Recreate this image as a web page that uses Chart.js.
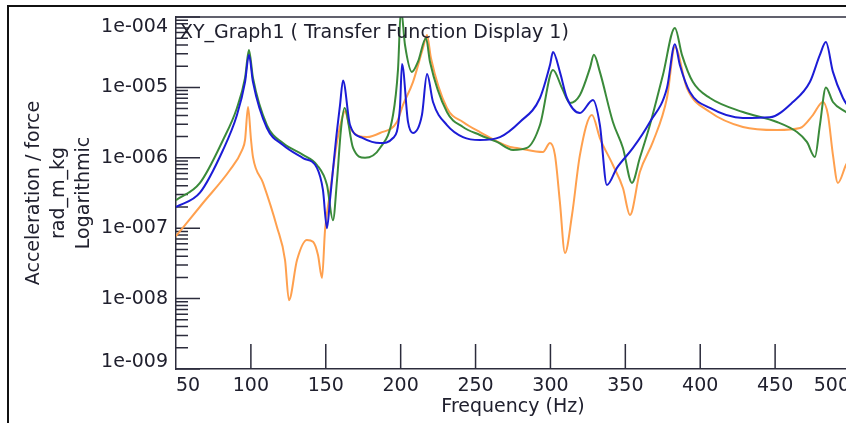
<!DOCTYPE html>
<html>
<head>
<meta charset="utf-8">
<script src="https://cdn.jsdelivr.net/npm/chart.js@4.4.1/dist/chart.umd.min.js"></script>
<style>
  html, body { margin: 0; padding: 0; background: #fff; width: 846px; height: 423px; overflow: hidden; }
  canvas { display: block; }
</style>
</head>
<body>
<canvas id="c" width="856" height="423" style="width:856px;height:423px"></canvas>
<script>
// Frequency response magnitudes (acceleration / force), three measurement points
const freqBlue = [50, 66, 81.4, 90.7, 96.1, 98.7, 101.4, 110.7, 121.4, 134.8,
  144.1, 148.1, 150.8, 152.8, 156.8, 159.5, 161.5, 166.2, 174.8, 186.2,
  194.9, 199.5, 200.9, 204.9, 208.2, 214.2, 217.6, 221.6, 230.9, 241.6,
  252.9, 266.3, 279.6, 293.0, 299.7, 301.7, 306.3, 311.0, 319.7, 328.4,
  333.0, 337.7, 344.4, 355.1, 366.4, 377.8, 383.1, 386.4, 393.1, 406.5,
  428.5, 446.5, 461.9, 473.2, 479.9, 483.9, 488.6, 495.3, 500];
const magBlue = [2.0e-7, 3.2e-7, 1.29e-6, 4.05e-6, 1.19e-5, 2.9e-5, 1.19e-5, 2.65e-6, 1.52e-6, 9.9e-7,
  7.2e-7, 3.5e-7, 1.0e-7, 2.5e-7, 1.79e-6, 5.6e-6, 1.25e-5, 2.92e-6, 1.91e-6, 1.62e-6,
  1.91e-6, 5.1e-6, 2.15e-5, 3.23e-6, 2.25e-6, 4.05e-6, 1.55e-5, 6.2e-6, 2.92e-6, 1.97e-6,
  1.79e-6, 1.97e-6, 3.23e-6, 7.07e-6, 2.08e-5, 3.18e-5, 1.66e-5, 7.07e-6, 4.33e-6, 6.6e-6,
  2.92e-6, 4.1e-7, 7.2e-7, 1.38e-6, 3.23e-6, 9.8e-6, 4.1e-5, 2.08e-5, 8.6e-6, 5.1e-6,
  3.67e-6, 3.76e-6, 6.2e-6, 1.19e-5, 2.9e-5, 4.4e-5, 1.66e-5, 7.07e-6, 4.9e-6];

const freqGreen = [50, 66, 81.4, 90.7, 96.1, 98.7, 101.4, 110.7, 121.4, 134.8,
  144.1, 150.8, 154.8, 157.5, 160.1, 162.5, 168.2, 176.2, 186.2, 194.9,
  198.2, 200.2, 202.9, 207.5, 211.5, 216.9, 219.6, 230.9, 241.6, 252.9,
  264.3, 275.0, 284.3, 293.0, 301.7, 307.7, 313.0, 319.7, 326.4, 329.0,
  333.0, 341.7, 348.4, 354.4, 359.7, 366.4, 375.1, 383.1, 387.8, 395.1,
  406.5, 428.5, 451.2, 464.6, 471.2, 476.6, 479.9, 483.9, 488.6, 497.3, 500];
const magGreen = [2.5e-7, 4.4e-7, 1.79e-6, 5.1e-6, 1.36e-5, 3.4e-5, 1.36e-5, 2.92e-6, 1.62e-6, 1.1e-6,
  7.9e-7, 4.1e-7, 1.3e-7, 4.8e-7, 2.48e-6, 5.1e-6, 1.38e-6, 1.0e-6, 1.38e-6, 4.05e-6,
  1.77e-5, 1.3e-4, 4.0e-5, 1.66e-5, 2.3e-5, 5.0e-5, 2.3e-5, 4.47e-6, 2.74e-6, 2.11e-6,
  1.68e-6, 1.29e-6, 1.38e-6, 2.92e-6, 1.77e-5, 9.8e-6, 6.0e-6, 7.8e-6, 1.89e-5, 2.9e-5,
  1.66e-5, 3.23e-6, 1.38e-6, 4.4e-7, 1.0e-6, 2.92e-6, 1.5e-5, 7.0e-5, 2.9e-5, 1.19e-5,
  7.07e-6, 4.47e-6, 3.23e-6, 2.32e-6, 1.68e-6, 1.03e-6, 2.92e-6, 1.0e-5, 6.2e-6, 4.47e-6, 4.05e-6];

const freqOrange = [50, 68.0, 86.0, 94.1, 96.1, 98.1, 100.1, 101.4, 108.1, 117.4,
  122.8, 125.4, 130.8, 137.4, 141.5, 144.8, 147.5, 149.5, 152.8, 157.5,
  161.5, 162.8, 166.2, 177.5, 186.2, 197.5, 201.5, 208.2, 214.9, 217.6,
  220.2, 230.9, 241.6, 252.9, 273.0, 277.6, 295.0, 299.7, 303.0, 306.3,
  309.7, 314.4, 319.7, 327.7, 333.0, 341.7, 348.4, 353.1, 359.7, 368.4,
  377.8, 383.1, 391.1, 406.5, 428.5, 451.2, 466.6, 475.2, 481.9, 485.3,
  488.6, 491.9, 497.3, 500];
const magOrange = [7.7e-8, 2.28e-7, 6.7e-7, 1.29e-6, 1.79e-6, 5.27e-6, 1.79e-6, 1.02e-6, 4.4e-7, 1.04e-7,
  3.53e-8, 9.5e-9, 3.53e-8, 6.8e-8, 6.4e-8, 4.16e-8, 1.96e-8, 9.4e-8, 3.16e-7, 1.68e-6,
  4.05e-6, 4.6e-6, 2.65e-6, 1.97e-6, 2.25e-6, 3.23e-6, 5.6e-6, 1.19e-5, 3.63e-5, 5.55e-5,
  2.62e-5, 5.1e-6, 3.23e-6, 2.32e-6, 1.42e-6, 1.38e-6, 1.21e-6, 1.62e-6, 1.1e-6, 2.36e-7,
  4.44e-8, 1.54e-7, 1.1e-6, 4.05e-6, 1.91e-6, 7.9e-7, 3.72e-7, 1.54e-7, 6.28e-7, 1.68e-6,
  7.07e-6, 3.75e-5, 9.8e-6, 4.47e-6, 2.74e-6, 2.48e-6, 2.65e-6, 4.05e-6, 6.2e-6, 4.05e-6,
  1.1e-6, 4.4e-7, 7.9e-7, 1.0e-6];

// Axis ticks
const freqTicks = [50, 100, 150, 200, 250, 300, 350, 400, 450, 500];
const magDecades = [1e-9, 1e-8, 1e-7, 1e-6, 1e-5, 1e-4];

const graphTitle = 'XY_Graph1 ( Transfer Function Display 1)';
const xTitle = 'Frequency (Hz)';
const yTitle = ['Acceleration / force', 'rad_m_kg', 'Logarithmic'];

const FONT = '"DejaVu Sans", "Liberation Sans", Arial, sans-serif';
const TEXT = '#20202e';
const AXIS = '#2c2c3c';

const pts = (f, m) => f.map((v, i) => ({ x: v, y: m[i] }));

function decadeLabel(v) {
  const e = Math.round(Math.log10(v));
  return '1e' + (e < 0 ? '-' : '+') + String(Math.abs(e)).padStart(3, '0');
}

// Inward tick marks, decade labels, plot title and outer frame
const decor = {
  id: 'decor',
  beforeDatasetsDraw(chart) {
    const { ctx, chartArea: a, scales: { x, y } } = chart;
    ctx.save();
    ctx.strokeStyle = AXIS;
    ctx.lineWidth = 1.5;
    ctx.beginPath();
    freqTicks.forEach(v => {
      if (v <= freqTicks[0]) return;
      const px = x.getPixelForValue(v);
      ctx.moveTo(px, a.bottom);
      ctx.lineTo(px, a.bottom - 25);
    });
    magDecades.forEach((d, i) => {
      if (i === magDecades.length - 1) return;
      for (let k = 1; k <= 9; k++) {
        const py = y.getPixelForValue(d * k);
        ctx.moveTo(a.left, py);
        ctx.lineTo(a.left + (k === 1 ? 24 : 12), py);
      }
    });
    const pTop = y.getPixelForValue(magDecades[magDecades.length - 1]);
    ctx.moveTo(a.left, pTop);
    ctx.lineTo(a.left + 24, pTop);
    ctx.stroke();
    ctx.restore();
  },
  afterDatasetsDraw(chart) {
    const { ctx, chartArea: a, scales: { y } } = chart;
    ctx.save();
    // top edge of the plot area
    ctx.strokeStyle = AXIS;
    ctx.lineWidth = 1.5;
    ctx.beginPath();
    ctx.moveTo(a.left, a.top);
    ctx.lineTo(a.right, a.top);
    ctx.stroke();
    // graph title inside the plot
    ctx.fillStyle = TEXT;
    ctx.font = '19px ' + FONT;
    ctx.textAlign = 'left';
    ctx.textBaseline = 'middle';
    ctx.fillText(graphTitle, a.left + 4, a.top + 16);
    // decade labels, kept inside the axis span
    ctx.textAlign = 'right';
    magDecades.forEach(d => {
      let py = y.getPixelForValue(d);
      py = Math.min(Math.max(py, a.top + 10), a.bottom - 7);
      ctx.fillText(decadeLabel(d), a.left - 8, py);
    });
    ctx.restore();
  },
  afterDraw(chart) {
    const { ctx, width, height } = chart;
    ctx.save();
    ctx.strokeStyle = '#111';
    ctx.lineWidth = 2;
    ctx.beginPath();
    ctx.moveTo(8, height + 5);
    ctx.lineTo(8, 6);
    ctx.lineTo(width + 5, 6);
    ctx.stroke();
    ctx.restore();
  }
};

const lineStyle = { borderWidth: 2, pointRadius: 0, fill: false, cubicInterpolationMode: 'monotone' };

new Chart(document.getElementById('c'), {
  type: 'line',
  data: {
    datasets: [
      { label: 'Point 3', data: pts(freqBlue, magBlue), borderColor: '#1c1cd6', ...lineStyle },
      { label: 'Point 2', data: pts(freqGreen, magGreen), borderColor: '#3a8a3a', ...lineStyle },
      { label: 'Point 1', data: pts(freqOrange, magOrange), borderColor: '#ffa04e', ...lineStyle }
    ]
  },
  options: {
    responsive: false,
    animation: false,
    devicePixelRatio: 1,
    layout: { padding: { top: 17, right: 5, left: 0, bottom: 0 } },
    plugins: { legend: { display: false }, tooltip: { enabled: false }, title: { display: false } },
    scales: {
      x: {
        type: 'linear',
        min: freqTicks[0],
        max: freqTicks[freqTicks.length - 1],
        afterBuildTicks: s => { s.ticks = freqTicks.map(v => ({ value: v })); },
        afterFit: s => { s.height = 54; },
        grid: { display: false, drawTicks: false },
        border: { display: true, color: AXIS, width: 1.5 },
        ticks: { color: TEXT, font: { family: FONT, size: 19 }, padding: 6, align: 'inner', maxRotation: 0, autoSkip: false },
        title: { display: true, text: xTitle, color: TEXT, font: { family: FONT, size: 19, lineHeight: 1.3 }, padding: { top: 0, bottom: 4 } }
      },
      y: {
        type: 'logarithmic',
        min: magDecades[0],
        max: magDecades[magDecades.length - 1],
        afterBuildTicks: s => { s.ticks = magDecades.map(v => ({ value: v })); },
        afterFit: s => { s.width = 176; },
        grid: { display: false, drawTicks: false },
        border: { display: true, color: AXIS, width: 1.5 },
        ticks: { display: false },
        title: { display: true, text: yTitle, color: TEXT, font: { family: FONT, size: 19, lineHeight: 1.3 }, padding: { top: 22, bottom: 0 } }
      }
    }
  },
  plugins: [decor]
});
</script>
</body>
</html>
